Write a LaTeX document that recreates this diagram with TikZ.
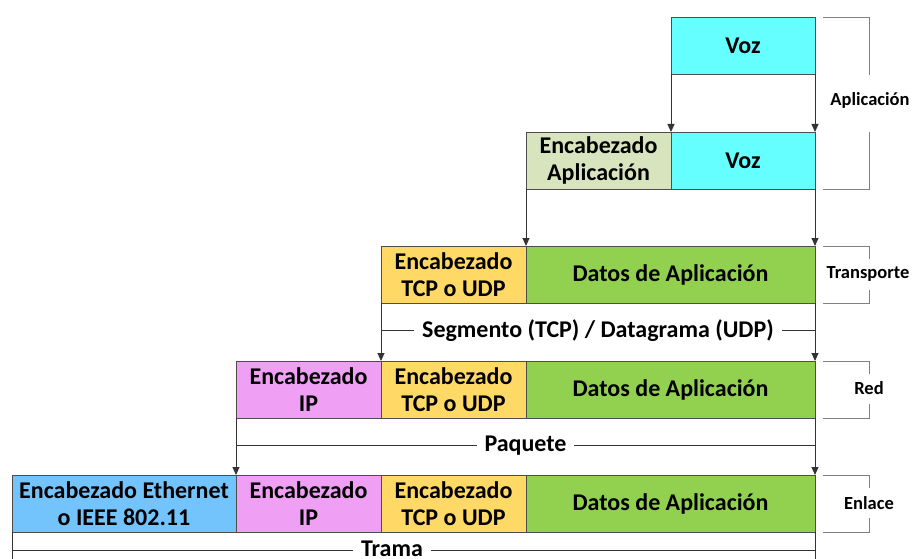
\documentclass[tikz,border=0pt]{standalone}
\usepackage{fontspec}
\setmainfont{Carlito}
\usetikzlibrary{arrows.meta,calc}
\definecolor{vozc}{HTML}{66FFFF}
\definecolor{apphdr}{HTML}{D7E4BD}
\definecolor{tcphdr}{HTML}{FFD966}
\definecolor{datac}{HTML}{92D050}
\definecolor{iphdr}{HTML}{F0A0F4}
\definecolor{ethhdr}{HTML}{73C4FC}
\definecolor{boxline}{HTML}{4D4D4D}
\definecolor{connc}{HTML}{333333}
\definecolor{brkc}{HTML}{808080}
\begin{document}
\begin{tikzpicture}[x=1pt,y=-1pt,
  pkt/.style={draw=boxline, line width=0.9pt, minimum height=57pt, inner sep=0pt,
    outer sep=0pt, anchor=north west, align=center, text=black,
    font=\fontsize{24}{27.5}\selectfont\bfseries},
  arr/.style={draw=connc, line width=0.9pt, -{Triangle[width=7pt,length=8pt]}},
  conn/.style={draw=connc, line width=0.9pt},
  span/.style={fill=white, inner xsep=8pt, inner ysep=2pt, text=black,
    font=\fontsize{24}{27.5}\selectfont\bfseries},
  brk/.style={draw=brkc, line width=0.9pt},
  layer/.style={text=black, inner sep=0pt, font=\fontsize{18.5}{21}\selectfont\bfseries}]
\useasboundingbox (0,0) rectangle (913,559);

% row 1: application data
\node[pkt, fill=vozc, minimum width=144pt] (voz1) at (671,17) {Voz};
% row 2: application header + data
\node[pkt, fill=apphdr, minimum width=145pt] (app2) at (526,132) {Encabezado\\Aplicación};
\node[pkt, fill=vozc, minimum width=144pt] (voz2) at (671,132) {Voz};
% row 3: segment / datagram
\node[pkt, fill=tcphdr, minimum width=145pt] (tcp3) at (381,246) {Encabezado\\TCP o UDP};
\node[pkt, fill=datac, minimum width=289pt] (dat3) at (526,246) {Datos de Aplicación};
% row 4: packet
\node[pkt, fill=iphdr, minimum width=145pt] (ip4) at (236,361) {Encabezado\\IP};
\node[pkt, fill=tcphdr, minimum width=145pt] (tcp4) at (381,361) {Encabezado\\TCP o UDP};
\node[pkt, fill=datac, minimum width=289pt] (dat4) at (526,361) {Datos de Aplicación};
% row 5: frame
\node[pkt, fill=ethhdr, minimum width=224pt] (eth5) at (12,475) {Encabezado Ethernet\\o IEEE 802.11};
\node[pkt, fill=iphdr, minimum width=145pt] (ip5) at (236,475) {Encabezado\\IP};
\node[pkt, fill=tcphdr, minimum width=145pt] (tcp5) at (381,475) {Encabezado\\TCP o UDP};
\node[pkt, fill=datac, minimum width=289pt] (dat5) at (526,475) {Datos de Aplicación};

% encapsulation arrows
\draw[arr] (voz1.south west) -- (voz2.north west);
\draw[arr] (voz1.south east) -- (voz2.north east);
\draw[arr] (app2.south west) -- (dat3.north west);
\draw[arr] (voz2.south east) -- (dat3.north east);
\draw[arr] (tcp3.south west) -- (tcp4.north west);
\draw[arr] (dat3.south east) -- (dat4.north east);
\draw[arr] (ip4.south west) -- (ip5.north west);
\draw[arr] (dat4.south east) -- (dat5.north east);
\coordinate (e0) at (12,559);
\coordinate (e1) at (815,559);
\draw[conn] (eth5.south west) -- (e0);
\draw[conn] (dat5.south east) -- (e1);

% unit spans
\coordinate (s0) at ($(tcp3.south west)!0.48!(tcp4.north west)$);
\coordinate (s1) at ($(dat3.south east)!0.48!(dat4.north east)$);
\draw[conn] (s0) -- (s1);
\node[span] (seg) at ($(s0)!0.5!(s1)$) {Segmento (TCP) / Datagrama (UDP)};

\coordinate (p0) at ($(ip4.south west)!0.48!(ip5.north west)$);
\coordinate (p1) at ($(dat4.south east)!0.48!(dat5.north east)$);
\draw[conn] (p0) -- (p1);
\node[span] (paq) at ($(p0)!0.5!(p1)$) {Paquete};

\coordinate (t0) at (12,550);
\coordinate (t1) at (815,550);
\draw[conn] (t0) -- (t1);
\node[span, inner ysep=0pt, anchor=base] (tra) at (392,556) {Trama};

% layer brackets
\node[layer] (lapp) at (870,100) {Aplicación};
\draw[brk] (823,17) -- (869,17) -- (869,75);
\draw[brk] (869,132) -- (869,189) -- (823,189);

\node[layer] (ltra) at (868,274) {Transporte};
\draw[brk] (823,246) -- (869,246) -- (869,259);
\draw[brk] (869,290) -- (869,303) -- (823,303);

\node[layer] (lred) at (869,388) {Red};
\draw[brk] (823,361) -- (869,361) -- (869,374);
\draw[brk] (869,404) -- (869,418) -- (823,418);

\node[layer] (lenl) at (869,503) {Enlace};
\draw[brk] (823,475) -- (869,475) -- (869,488);
\draw[brk] (869,518) -- (869,532) -- (823,532);
\end{tikzpicture}
\end{document}
